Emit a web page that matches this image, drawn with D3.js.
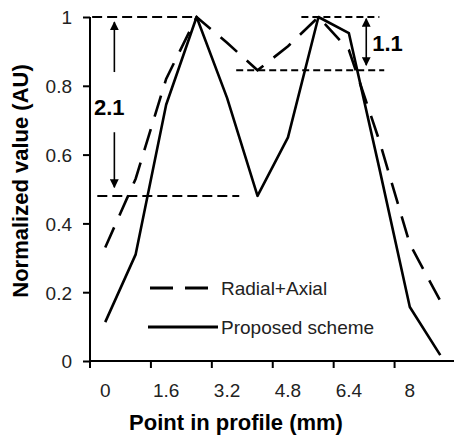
<!DOCTYPE html>
<html>
<head>
<meta charset="utf-8">
<script src="https://cdn.jsdelivr.net/npm/d3@7"></script>
<style>
  body { margin: 0; background: #fff; }
  text { font-family: "Liberation Sans", Arial, sans-serif; }
</style>
</head>
<body>
<div id="canvas"></div>
<script>
// categories (mm) and series
var categories = ["0", "0.8", "1.6", "2.4", "3.2", "4", "4.8", "5.6", "6.4", "7.2", "8", "8.8"];
var radialAxial = [0.33, 0.53, 0.82, 1.0, 0.925, 0.845, 0.915, 1.0, 0.904, 0.64, 0.34, 0.175];
var proposed = [0.113, 0.31, 0.745, 1.0, 0.765, 0.48, 0.65, 1.0, 0.953, 0.56, 0.157, 0.017];
var xTickLabels = ["0", "1.6", "3.2", "4.8", "6.4", "8"];
var yTicks = [0, 0.2, 0.4, 0.6, 0.8, 1];
var seriesNames = ["Radial+Axial", "Proposed scheme"];

// annotation guides, in data units (category index, value)
var longGuides = [{y: 1, from: -0.43, to: 3}, {y: 0.48, from: -0.26, to: 4.4}];
var shortGuides = [{y: 1, from: 6.44, to: 9.0}, {y: 0.845, from: 4.3, to: 9.16}];

var width = 454;
var height = 435;
var margin = {left: 90, top: 17, right: -1.5, bottom: 74};
var w = width - margin.left - margin.right;
var h = height - margin.top - margin.bottom;

var svg = d3.select("#canvas").append("svg")
  .attr("width", width)
  .attr("height", height);
svg.append("rect").attr("width", width).attr("height", height).attr("fill", "#fff");

var defs = svg.append("defs");
defs.append("marker")
  .attr("id", "head")
  .attr("viewBox", "0 0 10 10")
  .attr("refX", 9).attr("refY", 5)
  .attr("markerWidth", 5.5).attr("markerHeight", 5.5)
  .attr("markerUnits", "strokeWidth")
  .attr("orient", "auto-start-reverse")
  .append("path").attr("d", "M0,0 L10,5 L0,10 Z").attr("fill", "#000");

var g = svg.append("g")
  .attr("transform", "translate(" + margin.left + ", " + margin.top + ")");

var x = d3.scaleBand()
  .domain(categories)
  .range([0, w])
  .padding(0);
var bw = x.bandwidth();
// continuous index scale on the same band centres (for annotations)
var xi = d3.scaleLinear()
  .domain([0, categories.length - 1])
  .range([x(categories[0]) + bw / 2, x(categories[categories.length - 1]) + bw / 2]);
var y = d3.scaleLinear()
  .domain([0, 1])
  .range([h, 0]);

// Y axis
var leftAxis = d3.axisLeft(y).tickValues(yTicks).tickSize(7).tickPadding(11)
  .tickFormat(d3.format("~g"));
var ya = g.append("g").attr("class", "left axis").call(leftAxis);
ya.select(".domain").attr("stroke-width", 2).attr("d", "M0," + (h + 7) + "V0");
ya.selectAll(".tick line").attr("stroke-width", 2);
ya.selectAll("text").attr("font-size", "19px").attr("fill", "#222").attr("dy", "0.36em");

// X axis: labels on every other category, ticks on category boundaries
var bottomAxis = d3.axisBottom(x).tickValues(xTickLabels).tickSize(7).tickPadding(16);
var xa = g.append("g")
  .attr("class", "x axis")
  .attr("transform", "translate(0, " + h + ")")
  .call(bottomAxis);
xa.select(".domain").attr("stroke-width", 2).attr("d", "M0,0H" + w);
xa.selectAll(".tick line").attr("stroke-width", 2).attr("x1", -bw / 2).attr("x2", -bw / 2);
xa.selectAll("text").attr("font-size", "19px").attr("fill", "#222");

// axis labels
g.append("text")
  .attr("x", 146)
  .attr("y", h + 69)
  .attr("font-size", "22px")
  .attr("font-weight", "bold")
  .attr("text-anchor", "middle")
  .text("Point in profile (mm)");
g.append("text")
  .attr("transform", "rotate(-90)")
  .attr("x", -(h / 2) + 8)
  .attr("y", -62)
  .attr("font-size", "22px")
  .attr("font-weight", "bold")
  .attr("text-anchor", "middle")
  .text("Normalized value (AU)");

// guide lines
g.selectAll(".guide-long").data(longGuides).enter().append("line")
  .attr("class", "guide-long")
  .attr("x1", (d) => xi(d.from)).attr("x2", (d) => xi(d.to))
  .attr("y1", (d) => y(d.y)).attr("y2", (d) => y(d.y))
  .attr("stroke", "#000").attr("stroke-width", 2).attr("stroke-dasharray", "10,5");
g.selectAll(".guide-short").data(shortGuides).enter().append("line")
  .attr("class", "guide-short")
  .attr("x1", (d) => xi(d.from)).attr("x2", (d) => xi(d.to))
  .attr("y1", (d) => y(d.y)).attr("y2", (d) => y(d.y))
  .attr("stroke", "#000").attr("stroke-width", 2).attr("stroke-dasharray", "7,4");

// arrows + ratio labels
var arrows = [
  {x: 0.3, y1: 0.84, y2: 0.985, start: false, end: true},
  {x: 0.3, y1: 0.665, y2: 0.505, start: false, end: true},
  {x: 8.57, y1: 0.86, y2: 0.995, start: true, end: true}
];
g.selectAll(".arrow").data(arrows).enter().append("line")
  .attr("class", "arrow")
  .attr("x1", (d) => xi(d.x)).attr("x2", (d) => xi(d.x))
  .attr("y1", (d) => y(d.y1)).attr("y2", (d) => y(d.y2))
  .attr("stroke", "#000").attr("stroke-width", 1.6)
  .attr("marker-start", (d) => d.start ? "url(#head)" : null)
  .attr("marker-end", (d) => d.end ? "url(#head)" : null);

var ratios = [{x: 0.13, y: 0.715, t: "2.1"}, {x: 9.27, y: 0.90, t: "1.1"}];
g.selectAll(".ratio").data(ratios).enter().append("text")
  .attr("class", "ratio")
  .attr("x", (d) => xi(d.x)).attr("y", (d) => y(d.y))
  .attr("text-anchor", "middle")
  .attr("font-size", "22px").attr("font-weight", "bold")
  .text((d) => d.t);

// series
var line = d3.line()
  .x((d, i) => x(categories[i]) + bw / 2)
  .y((d) => y(d));
g.append("path").datum(radialAxial)
  .attr("d", line).attr("fill", "none")
  .attr("stroke", "#000").attr("stroke-width", 2.6)
  .attr("stroke-dasharray", "22,13");
g.append("path").datum(proposed)
  .attr("d", line).attr("fill", "none")
  .attr("stroke", "#000").attr("stroke-width", 2.6)
  .attr("stroke-linejoin", "round");

// legend
var legend = g.append("g").attr("transform", "translate(58, 271)");
var rows = legend.selectAll(".row").data(seriesNames).enter().append("g")
  .attr("class", "row")
  .attr("transform", (d, i) => "translate(0, " + (i * 39) + ")");
rows.append("line")
  .attr("x1", (d, i) => i === 0 ? 2 : 0).attr("x2", (d, i) => i === 0 ? 60 : 70)
  .attr("y1", 0).attr("y2", 0)
  .attr("stroke", "#000").attr("stroke-width", 3)
  .attr("stroke-dasharray", (d, i) => i === 0 ? "23,12" : null);
rows.append("text")
  .attr("x", 73).attr("y", 0).attr("dy", "0.35em")
  .attr("font-size", "19px").attr("fill", "#222")
  .text((d) => d);
</script>
</body>
</html>
